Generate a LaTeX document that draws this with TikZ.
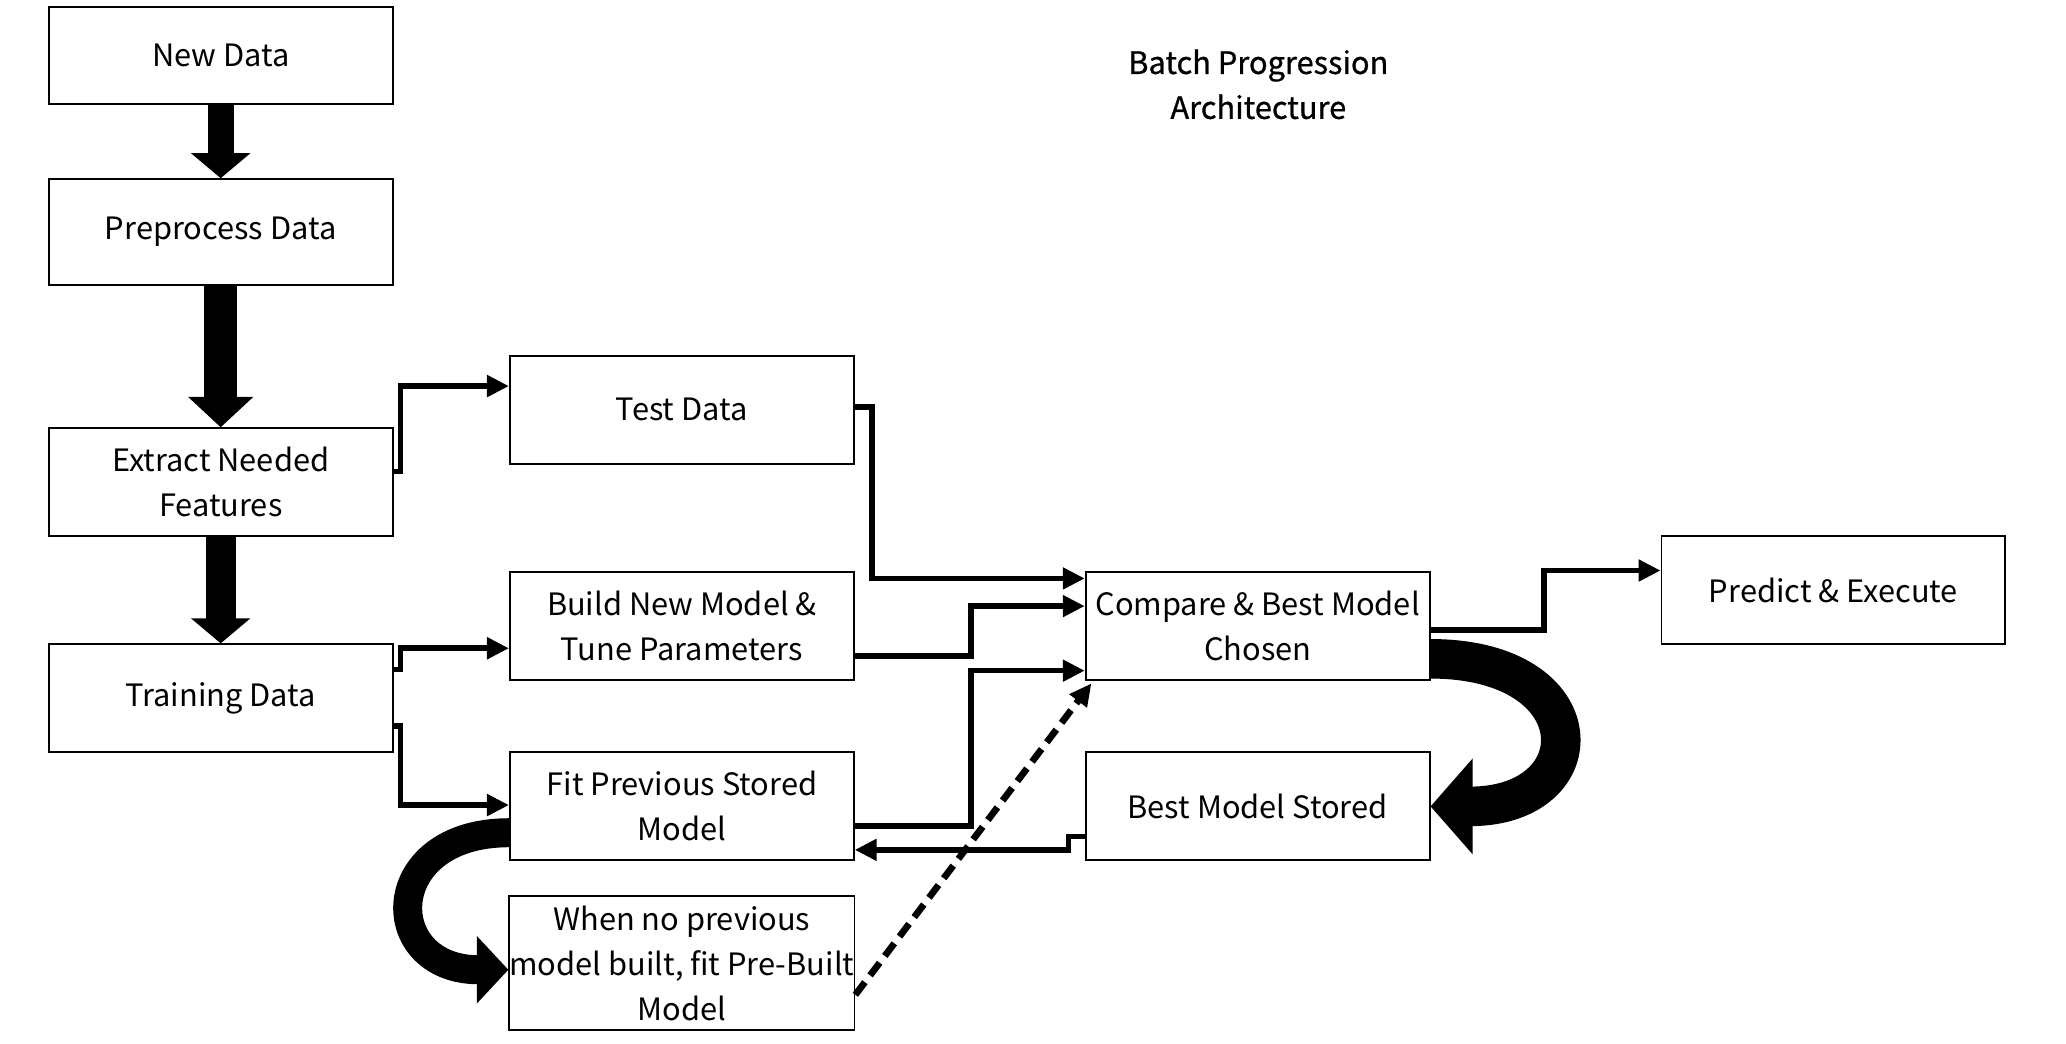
\documentclass[tikz,border=0pt]{standalone}
\usepackage{fontspec}
\setmainfont{Noto Sans CJK SC}
\newfontfamily\titlefont[FakeBold=0.8]{Noto Sans CJK SC}
\usetikzlibrary{positioning, calc, arrows.meta}

\begin{document}
\begin{tikzpicture}[x=0.2mm, y=-0.2mm,
    box/.style={draw, line width=0.8pt, minimum width=5.22cm, minimum height=1.64cm,
        align=center, inner xsep=0pt, font=\fontsize{13.3}{19.4}\selectfont},
    link/.style={line width=2.4pt, -{Triangle[length=9.5pt, width=9pt]}},
    dashlink/.style={link, line width=2.9pt, dash pattern=on 2.4mm off 1.3mm},
    blockarrow/.style={line width=0.4cm, -{Triangle[length=0.38cm, width=0.88cm]}},
    curvearrow/.style={line width=0.6cm, -{Triangle[length=0.64cm, width=1.42cm]}}]
        % Fix picture size
        \useasboundingbox (0,0) rectangle (1568,792);

        % Draw boxes
        \node[box, minimum height=1.48cm] (newdata) at (167.5,42) {New Data};
        \node[box, minimum height=1.6cm] (prep) at (167.5,176) {Preprocess Data};
        \node[box] (extract) at (167.5,366) {Extract Needed\\Features};
        \node[box] (train) at (167.5,530) {Training Data};
        \node[box] (test) at (517.5,311) {Test Data};
        \node[box] (build) at (517.5,475) {Build New Model \&\\Tune Parameters};
        \node[box] (fit) at (517.5,612) {Fit Previous Stored\\Model};
        \node[box, minimum height=2.04cm] (nomodel) at (517.5,731) {When no previous\\model built, fit Pre-Built\\Model};
        \node[box] (compare) at (954.5,475) {Compare \& Best Model\\Chosen};
        \node[box] (stored) at (954.5,612) {Best Model Stored};
        \node[box] (predict) at (1391.5,448) {Predict \& Execute};

        % Add title
        \node[align=center, font=\titlefont\fontsize{13.3}{19.4}\selectfont] (title) at (955,64) {Batch Progression\\Architecture};

        % Draw block arrows down the left column
        \draw[blockarrow] (newdata.south) -- (prep.north);
        \draw[blockarrow, line width=0.5cm, -{Triangle[length=0.46cm, width=0.96cm]}] (prep.south) -- (extract.north);
        \draw[blockarrow, line width=0.46cm] (extract.south) -- (train.north);

        % Draw elbow connectors
        \draw[link] (extract.east |- 0,358) -| (304,293) -- (test.west |- 0,293);
        \draw[link] (train.east |- 0,508) -| (304,492) -- (build.west |- 0,492);
        \draw[link] (train.east |- 0,551) -| (304,611) -- (fit.west |- 0,611);
        \draw[link] (test.east |- 0,309) -| (662,439) -- (compare.west |- 0,439);
        \draw[link] (build.east |- 0,498) -| (737,460) -- (compare.west |- 0,460);
        \draw[link] (fit.east |- 0,627) -| (737,509) -- (compare.west |- 0,509);
        \draw[link] (stored.west |- 0,635) -| (811,645) -- (fit.east |- 0,645);
        \draw[link] (compare.east |- 0,478) -| (1172,433) -- (predict.west |- 0,433);
        \draw[dashlink] (nomodel.east |- 0,755) -- ($(compare.south west)+(5,2)$);

        % Draw curved block arrows
        \draw[curvearrow] (compare.east |- 0,500) .. controls (1212,500) and (1212,612) .. (stored.east);
        \draw[curvearrow, line width=0.44cm, -{Triangle[length=0.48cm, width=1.0cm]}] (fit.west |- 0,632) .. controls (288,632) and (288,736) .. (nomodel.west |- 0,736);
    \end{tikzpicture}
\end{document}
